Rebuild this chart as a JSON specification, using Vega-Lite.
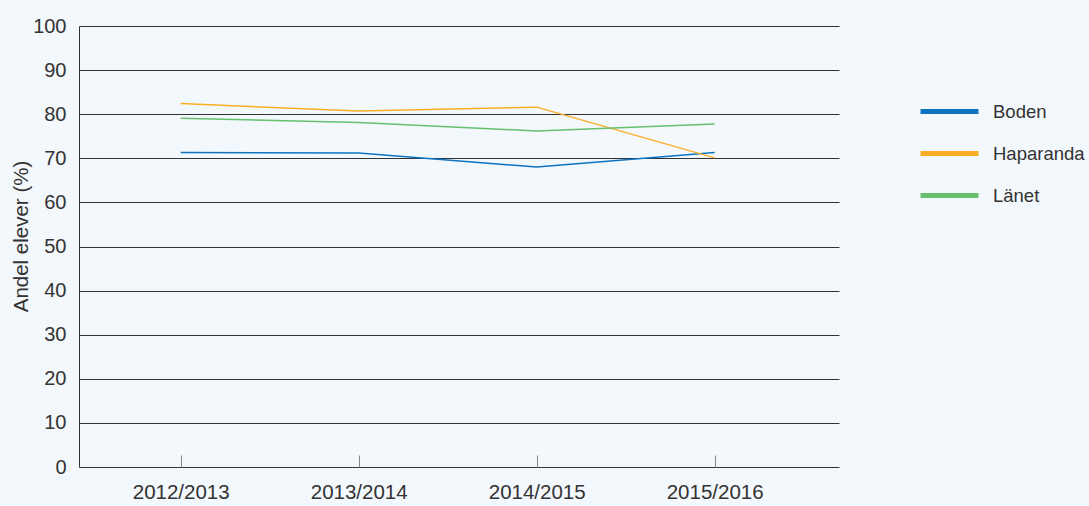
{
  "$schema": "https://vega.github.io/schema/vega-lite/v6.json",
  "width": 760,
  "height": 441,
  "autosize": "none",
  "padding": {"left": 79, "top": 26, "right": 250, "bottom": 39},
  "background": "#f3f8fc",
  "config": {
    "view": {"stroke": null},
    "font": "Liberation Sans",
    "axis": {"labelFont": "Liberation Sans", "titleFont": "Liberation Sans"},
    "legend": {"labelFont": "Liberation Sans"}
  },
  "data": {
    "values": [
      {"year": "2012/2013", "series": "Boden", "value": 71.3},
      {"year": "2013/2014", "series": "Boden", "value": 71.2},
      {"year": "2014/2015", "series": "Boden", "value": 68.0},
      {"year": "2015/2016", "series": "Boden", "value": 71.3},
      {"year": "2012/2013", "series": "Haparanda", "value": 82.4},
      {"year": "2013/2014", "series": "Haparanda", "value": 80.7},
      {"year": "2014/2015", "series": "Haparanda", "value": 81.6},
      {"year": "2015/2016", "series": "Haparanda", "value": 70.1},
      {"year": "2012/2013", "series": "Länet", "value": 79.1},
      {"year": "2013/2014", "series": "Länet", "value": 78.1},
      {"year": "2014/2015", "series": "Länet", "value": 76.2},
      {"year": "2015/2016", "series": "Länet", "value": 77.8}
    ]
  },
  "mark": {"type": "line", "strokeWidth": 1.5},
  "encoding": {
    "x": {
      "field": "year",
      "type": "ordinal",
      "scale": {"type": "point", "padding": 0.635, "align": 0.45},
      "axis": {
        "title": null,
        "labelAngle": 0,
        "labelFontSize": 20.5,
        "labelColor": "#333333",
        "domain": false,
        "grid": false,
        "ticks": true,
        "tickSize": -12,
        "tickColor": "#888888",
        "tickWidth": 1,
        "labelPadding": 27
      }
    },
    "y": {
      "field": "value",
      "type": "quantitative",
      "scale": {"domain": [0, 100], "nice": false, "zero": true},
      "axis": {
        "title": "Andel elever (%)",
        "titleFontSize": 20.5,
        "titleFontWeight": "normal",
        "titleColor": "#333333",
        "titlePadding": 1,
        "titleY": 210,
        "values": [0, 10, 20, 30, 40, 50, 60, 70, 80, 90, 100],
        "labelFontSize": 20,
        "labelColor": "#333333",
        "labelPadding": 13,
        "ticks": false,
        "domain": true,
        "domainColor": "#333333",
        "grid": true,
        "gridColor": "#333333",
        "gridOpacity": 1,
        "gridWidth": 1
      }
    },
    "color": {
      "field": "series",
      "type": "nominal",
      "scale": {"domain": ["Boden", "Haparanda", "Länet"], "range": ["#0f74c0", "#fbad26", "#66bf6d"]},
      "legend": {
        "title": null,
        "orient": "none",
        "legendX": 839,
        "legendY": 54,
        "symbolType": "stroke",
        "symbolSize": 3364,
        "symbolStrokeWidth": 5,
        "labelFontSize": 18.5,
        "labelColor": "#333333",
        "labelOffset": 12,
        "rowPadding": -16
      }
    }
  }
}
